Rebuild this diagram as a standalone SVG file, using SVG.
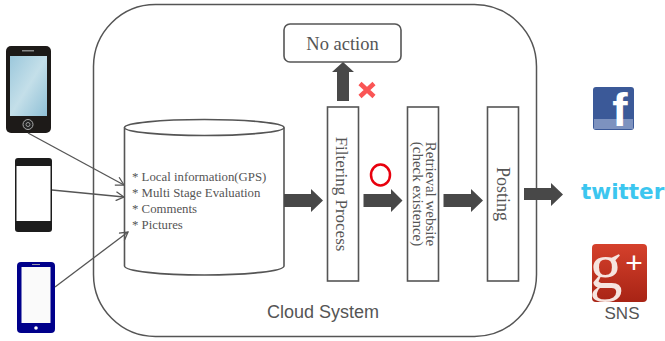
<svg xmlns="http://www.w3.org/2000/svg" width="665" height="341" viewBox="0 0 665 341">
<style>
.box{fill:#fff;stroke:#555;stroke-width:1.6}
.t{font-family:"Liberation Serif",serif;fill:#555}
.v{font-family:"Liberation Serif",serif;fill:#555;text-anchor:middle}
.c{fill:none;stroke:#555;stroke-width:1.3}
.b{fill:#484848}
</style>
<defs>
<marker id="ah" viewBox="0 0 10 10" refX="9" refY="5" markerWidth="10" markerHeight="10" markerUnits="userSpaceOnUse" orient="auto"><path d="M1 0.5L9 5L1 9.5" fill="none" stroke="#555" stroke-width="1.3"/></marker>
<linearGradient id="scr" x1="0" y1="0" x2="1" y2="1"><stop offset="0" stop-color="#9cc8dc"/><stop offset=".5" stop-color="#c4dfe9"/><stop offset="1" stop-color="#8fc0d6"/></linearGradient>
<linearGradient id="gp" x1="0" y1="0" x2="0" y2="1"><stop offset="0" stop-color="#d5412c"/><stop offset="1" stop-color="#a82415"/></linearGradient>
<clipPath id="gc"><rect x="592" y="244" width="55" height="58" rx="4"/></clipPath>
</defs>
<g id="cloud"><rect x="93.500" y="4.500" width="443" height="332" rx="62" fill="#fff" stroke="#555" stroke-width="1.500"/><text x="323" y="318" font-family="Liberation Sans,sans-serif" font-size="18" fill="#555" text-anchor="middle">Cloud System</text></g>
<g id="phone1"><rect x="6" y="46" width="45" height="87" rx="5" fill="#1d1a18"/><rect x="10" y="56" width="37" height="60" fill="url(#scr)"/><rect x="22" y="50" width="12" height="1.500" fill="#888"/><circle cx="28" cy="124.500" r="5" fill="#222" stroke="#aaa"/><circle cx="28" cy="124.500" r="2" fill="none" stroke="#999"/></g>
<g id="phone2"><rect x="15" y="158" width="37" height="74" rx="3" fill="#1c1c1c"/><rect x="16.500" y="166" width="34" height="55" fill="#fff"/></g>
<g id="phone3"><rect x="17" y="262" width="38" height="71" rx="4" fill="#00008b"/><rect x="21.500" y="267" width="29" height="56" fill="#fafafa"/><circle cx="36" cy="328" r="1.800" fill="#fff"/><rect x="32" y="264" width="8" height="1" fill="#99a"/></g>
<g id="database"><path class="box" d="M124.500 127.500V266C124.500 271 160 275 204.500 275S284 271 284 266V127.500"/><ellipse class="box" cx="204.250" cy="127.500" rx="79.750" ry="8"/>
<g class="t" font-size="12.800"><text x="132" y="181">* Local information(GPS)</text><text x="132" y="197">* Multi Stage Evaluation</text><text x="132" y="213">* Comments</text><text x="132" y="229">* Pictures</text></g></g>
<g id="no-action"><rect class="box" x="284" y="24" width="117" height="38" rx="6"/><text class="t" x="342.500" y="50" font-size="18.500" text-anchor="middle">No action</text></g>
<g id="filtering"><rect class="box" x="327.500" y="107" width="31" height="174"/><text class="v" font-size="17" transform="translate(336 194) rotate(90)">Filtering Process</text></g>
<g id="retrieval"><rect class="box" x="407.500" y="107" width="31" height="174"/><text class="v" font-size="15" transform="translate(425.500 194) rotate(90)">Retrieval website</text><text class="v" font-size="15" transform="translate(413 194) rotate(90)">(check existence)</text></g>
<g id="posting"><rect class="box" x="487.500" y="107" width="31" height="174"/><text class="v" font-size="18" transform="translate(496.500 194) rotate(90)">Posting</text></g>
<g id="connectors">
<path class="c" d="M28 133L124 185" marker-end="url(#ah)"/><path class="c" d="M52 190L124 197" marker-end="url(#ah)"/><path class="c" d="M55 287L128 232" marker-end="url(#ah)"/>
<path class="b" d="M337 101V72H332L343 62L354 72H349V101Z"/>
<path class="b" d="M284 194H311V189L323 200.500L311 212V207H284Z"/>
<path class="b" d="M363.500 194H391V189L402.500 200.500L391 212V207H363.500Z"/>
<path class="b" d="M443.500 194H471V189L483 200.500L471 212V207H443.500Z"/>
<path class="b" d="M524 188H551V183L563 194.500L551 206V200H524Z"/>
</g>
<g id="cross"><path d="M360 83.500L374 96.500M374 83.500L360 96.500" stroke="#fa5555" stroke-width="4.500" fill="none"/></g>
<g id="circle"><ellipse cx="380.500" cy="175" rx="9.500" ry="10.500" fill="none" stroke="#e8000d" stroke-width="2.500"/></g>
<g id="facebook"><rect x="593" y="87" width="41" height="43" rx="3" fill="#3b5998"/><rect x="594" y="119" width="39" height="10" fill="#7d92bf"/><text x="620" y="126" font-family="Liberation Sans,sans-serif" font-weight="bold" font-size="46" fill="#fff" text-anchor="middle">f</text></g>
<g id="twitter"><text x="581" y="199" font-family="DejaVu Sans,sans-serif" font-weight="bold" font-size="21.500" fill="#3cc6ef">twitter</text></g>
<g id="googleplus"><rect x="592" y="244" width="55" height="58" rx="4" fill="url(#gp)"/><g clip-path="url(#gc)"><text x="606" y="288" font-family="Liberation Serif,serif" font-size="66" fill="#f6e4df" text-anchor="middle">g</text></g><text x="634" y="273" font-family="Liberation Sans,sans-serif" font-size="30" fill="#fff" text-anchor="middle">+</text></g>
<g id="sns"><text x="622" y="319" font-family="Liberation Sans,sans-serif" font-size="17" fill="#555" text-anchor="middle">SNS</text></g>
</svg>
